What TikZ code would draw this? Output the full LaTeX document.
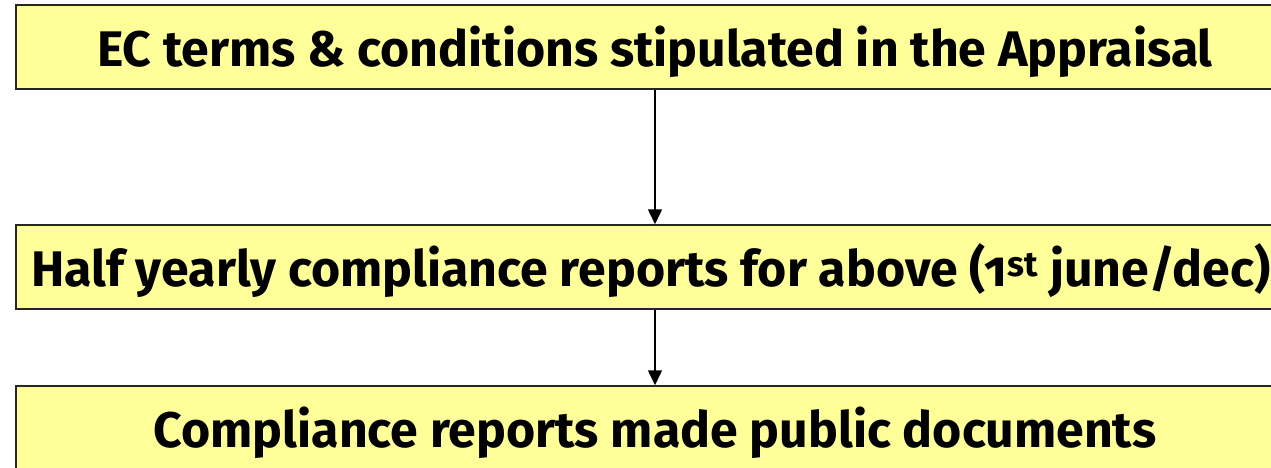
\documentclass[tikz,border=0pt]{standalone}
\usepackage{fontspec}
\setmainfont{Fira Sans}[Numbers=OldStyle]
\usetikzlibrary{arrows.meta}
\begin{document}
\begin{tikzpicture}[x=1pt,y=1pt,
  boxtext/.style={font=\fontsize{50}{54}\selectfont\bfseries, text height=44pt, text depth=6pt},
  box/.style={draw=black!85, line width=1.5pt, fill=yellowbox, minimum width=1278pt, minimum height=84pt, inner sep=0pt, boxtext},
  conn/.style={line width=1.5pt, -{Triangle[width=14pt,length=15pt]}}]
\definecolor{yellowbox}{HTML}{FFFF99}
\useasboundingbox (0,0) rectangle (1271,-467);
\clip (0,0) rectangle (1271,-467);
\node[box] (a) at (655,-47) {EC terms \& conditions stipulated in the Appraisal};
\node[box] (b) at (655,-267) {};
\node[boxtext] (bt) at (651,-267) {Half yearly compliance reports for above (1\textsuperscript{st} june/dec)};
\node[box] (c) at (655,-428) {Compliance reports made public documents};
\draw[conn] (a.south) -- (b.north);
\draw[conn] (b.south) -- (c.north);
\end{tikzpicture}
\end{document}
